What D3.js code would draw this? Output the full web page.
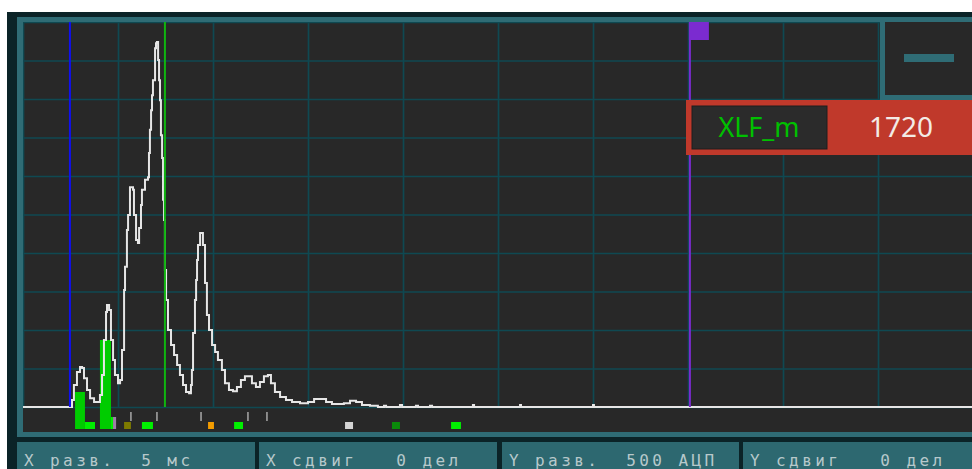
<!DOCTYPE html>
<html>
<head>
<meta charset="utf-8">
<script src="https://cdn.jsdelivr.net/npm/d3@7"></script>
<style>
  body { margin: 0; background: #fff; }
  svg { display: block; }
</style>
</head>
<body>
<div id="scope"></div>
<script>
// trace: time (ms) and amplitude (ADC units)
var traceMs = [0, 2.47, 2.58, 2.68, 2.84, 3.00, 3.11, 3.21, 3.37, 3.53, 3.74, 3.89, 4.05, 4.16, 4.26, 4.37, 4.42, 4.53, 4.63, 4.74, 4.84, 5.00,
  5.11, 5.21, 5.32, 5.37, 5.47, 5.53, 5.63, 5.79, 5.84, 5.95, 6.05, 6.11, 6.21, 6.26, 6.42, 6.58, 6.63, 6.68, 6.74, 6.79, 6.84, 6.95,
  7.00, 7.05, 7.11, 7.16, 7.21, 7.26, 7.32, 7.37, 7.42, 7.47, 7.53, 7.63, 7.79, 7.95, 8.11, 8.26, 8.42, 8.58, 8.74, 8.84, 8.89, 8.95,
  9.05, 9.11, 9.16, 9.21, 9.32, 9.42, 9.47, 9.58, 9.68, 9.79, 9.95, 10.11, 10.26, 10.47, 10.63, 10.84, 11.05, 11.26, 11.47, 11.68,
  11.84, 12.05, 12.26, 12.47, 12.68, 12.89, 13.05, 13.26, 13.53, 13.84, 14.16, 14.58, 15.00, 15.32, 15.63, 15.95, 16.26, 16.58,
  16.89, 17.21, 17.53, 17.84, 18.26, 18.68, 19.00, 19.11, 19.74, 19.84, 19.95, 20.58, 20.68, 20.79, 21.32, 21.42, 21.53,
  23.63, 23.68, 23.74, 26.11, 26.16, 26.21, 29.95, 30.00, 30.05, 50];
var traceAdc = [0, 0, 90, 285, 455, 520, 505, 375, 220, 115, 65, 65, 155, 415, 870, 1235, 1325, 1260, 870, 610, 415, 310,
  350, 740, 1520, 1820, 2300, 2495, 2855, 2820, 2495, 2170, 2130, 2325, 2625, 2820, 2950, 2985, 3300, 3600, 3855, 4050, 4245, 4660,
  4725, 4740, 4505, 4245, 3985, 3530, 3235, 2690, 2430, 1780, 1390, 1000, 805, 675, 545, 415, 285, 195, 180, 285, 480, 960,
  1390, 1650, 1910, 2105, 2260, 2260, 2105, 1610, 1195, 1000, 805, 715, 610, 480, 310, 220, 205, 260, 350, 400,
  400, 310, 260, 325, 400, 415, 310, 195, 130, 90, 65, 50, 65, 105, 105, 65, 40, 40,
  50, 80, 65, 25, 15, 0, 15, 0, 0, 25, 0, 0, 15, 0, 0, 15, 0,
  0, 25, 0, 0, 25, 0, 0, 25, 0, 0];

// cursors (ms)
var cursorNames = ["start", "gate", "XLF_m"];
var cursorMs = [2.47, 7.47, 35.1];
var cursorColors = ["#1010f0", "#10b410", "#7b2bd0"];

// event bars above the marker strip: start, end (ms), height (ADC)
var barStart = [2.74, 4.05];
var barEnd = [3.26, 4.63];
var barAdc = [195, 870];

// marker strip blocks: start, end (ms), colour, tall flag
var blockStart = [3.26, 4.63, 4.74, 5.32, 6.26, 9.74, 11.11, 16.95, 19.42, 22.53];
var blockEnd = [3.79, 4.74, 4.90, 5.68, 6.84, 10.05, 11.58, 17.37, 19.84, 23.05];
var blockColor = ["#00f000", "#00f000", "#a07fa8", "#7d7a00", "#00f000", "#f39c00", "#00f000", "#d4d4d4", "#0a8a0a", "#00f000"];
var blockTall = [0, 1, 1, 0, 0, 0, 0, 0, 0, 0];

// small ticks in the strip (ms)
var tickMs = [5.68, 7.05, 9.37, 11.84, 12.84];

// status bar
var statusText = ["X разв.  5 мс", "X сдвиг   0 дел", "Y разв.  500 АЦП", "Y сдвиг   0 дел"];

var readoutName = "XLF_m";
var readoutValue = "1720";

var W = 972, H = 469;
var plot = {left: 23, top: 22, right: 973, base: 407, bottom: 432};

var x = d3.scaleLinear().domain([0, 50]).range([plot.left, plot.right]);
var y = d3.scaleLinear().domain([0, 5000]).range([plot.base, plot.top]);

var svg = d3.select("#scope").append("svg")
  .attr("width", W)
  .attr("height", H);

// frame
svg.append("rect").attr("x", 7).attr("y", 12).attr("width", W - 7).attr("height", H - 12).attr("fill", "#0b2327");
svg.append("rect").attr("x", 17).attr("y", 17).attr("width", W - 17).attr("height", 420).attr("fill", "#2f6c75");
svg.append("rect").attr("x", plot.left).attr("y", plot.top)
  .attr("width", W - plot.left).attr("height", plot.bottom - plot.top).attr("fill", "#282828");

svg.append("clipPath").attr("id", "clip")
  .append("rect").attr("x", plot.left).attr("y", plot.top)
  .attr("width", W - plot.left).attr("height", plot.bottom - plot.top);

var g = svg.append("g").attr("clip-path", "url(#clip)");

// grid through axes
var gx = g.append("g")
  .attr("transform", "translate(0," + plot.base + ")")
  .call(d3.axisBottom(x).ticks(10).tickSize(-(plot.base - plot.top)).tickFormat(""));
var gy = g.append("g")
  .attr("transform", "translate(" + plot.left + ",0)")
  .call(d3.axisLeft(y).ticks(10).tickSize(-(W - plot.left)).tickFormat(""));
[gx, gy].forEach(function(a) {
  a.select(".domain").remove();
  a.selectAll("line").attr("stroke", "#0f4952").attr("stroke-width", 1.7);
});

// event bars
var stripBottom = plot.bottom - 3;
barAdc.forEach(function(v, i) {
  g.append("rect")
    .attr("x", x(barStart[i]))
    .attr("y", y(v))
    .attr("width", x(barEnd[i]) - x(barStart[i]))
    .attr("height", stripBottom - y(v))
    .attr("fill", "#00cc00");
});

// strip blocks
blockStart.forEach(function(s, i) {
  var h = blockTall[i] ? 12 : 7;
  g.append("rect")
    .attr("x", x(s))
    .attr("y", stripBottom - h)
    .attr("width", x(blockEnd[i]) - x(s))
    .attr("height", h)
    .attr("fill", blockColor[i]);
});

tickMs.forEach(function(t) {
  g.append("line")
    .attr("x1", x(t)).attr("x2", x(t))
    .attr("y1", plot.base + 5).attr("y2", plot.base + 14)
    .attr("stroke", "#a8a8a8").attr("stroke-width", 1.5);
});

// trace
var trace = traceMs.map(function(t, i) { return [t, traceAdc[i]]; });
var line = d3.line()
  .curve(d3.curveStepAfter)
  .x(function(d) { return x(d[0]); })
  .y(function(d) { return y(d[1]); });
g.append("path")
  .datum(trace)
  .attr("d", line)
  .attr("fill", "none")
  .attr("stroke", "#e6e6e6")
  .attr("stroke-width", 2);

// cursors
cursorMs.forEach(function(t, i) {
  g.append("line")
    .attr("x1", x(t)).attr("x2", x(t))
    .attr("y1", plot.top).attr("y2", plot.base)
    .attr("stroke", cursorColors[i]).attr("stroke-width", 2);
});
g.append("rect")
  .attr("x", x(cursorMs[2]) - 1).attr("y", plot.top)
  .attr("width", 20).attr("height", 18)
  .attr("fill", cursorColors[2]);

// top-right button
svg.append("rect").attr("x", 880).attr("y", plot.top).attr("width", W - 880).attr("height", 78).attr("fill", "#2f6c75");
svg.append("rect").attr("x", 885).attr("y", plot.top).attr("width", W - 885).attr("height", 73).attr("fill", "#282828");
svg.append("rect").attr("x", 904).attr("y", 54).attr("width", 50).attr("height", 8).attr("fill", "#2f6c75");

// readout
svg.append("rect").attr("x", 686).attr("y", 100).attr("width", W - 686).attr("height", 55).attr("fill", "#c0392b");
svg.append("rect").attr("x", 692).attr("y", 106).attr("width", 135).attr("height", 43)
  .attr("fill", "#2b2b2b").attr("stroke", "#1e1e1e").attr("stroke-width", 1);
svg.append("text").attr("x", 759).attr("y", 137)
  .attr("text-anchor", "middle")
  .style("font-family", "'Noto Sans', sans-serif").style("font-size", "27px")
  .attr("fill", "#00c000").text(readoutName);
svg.append("text").attr("x", 901).attr("y", 137)
  .attr("text-anchor", "middle")
  .style("font-family", "'Noto Sans', sans-serif").style("font-size", "28px")
  .attr("fill", "#f3ebe6").text(readoutValue);

// status bar
var cellX = [17, 259, 502, 743];
var cellW = [238, 238, 237, 229];
statusText.forEach(function(s, i) {
  svg.append("rect").attr("x", cellX[i]).attr("y", 442).attr("width", cellW[i]).attr("height", 27).attr("fill", "#2d6870");
  svg.append("text")
    .attr("x", cellX[i] + 7).attr("y", 466)
    .style("font-family", "'DejaVu Sans Mono', monospace")
    .style("font-size", "16px")
    .style("letter-spacing", "3.4px")
    .style("white-space", "pre")
    .attr("fill", "#b7c8cb")
    .text(s);
});
</script>
</body>
</html>
